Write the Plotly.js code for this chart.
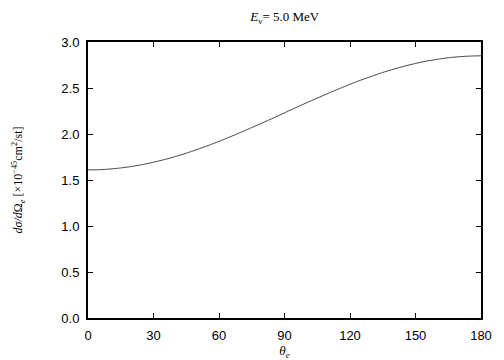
<!DOCTYPE html>
<html>
<head>
<meta charset="utf-8">
<script src="https://cdn.plot.ly/plotly-3.0.1.min.js"></script>
<style>html,body{margin:0;padding:0;background:#fff;}#chart{width:504px;height:360px;}</style>
</head>
<body>
<div id="chart"></div>
<script>
const theta = [0, 5, 10, 15, 20, 25, 30, 35, 40, 45, 50, 55, 60, 65, 70, 75, 80, 85, 90,
               95, 100, 105, 110, 115, 120, 125, 130, 135, 140, 145, 150, 155, 160, 165, 170, 175, 180];
const dsigma = [1.61, 1.612, 1.619, 1.631, 1.647, 1.668, 1.693, 1.722, 1.755, 1.791, 1.832, 1.874, 1.92, 1.968, 2.018, 2.07, 2.122, 2.175, 2.23,
                2.285, 2.338, 2.39, 2.442, 2.492, 2.54, 2.586, 2.628, 2.669, 2.705, 2.738, 2.767, 2.792, 2.812, 2.829, 2.84, 2.847, 2.85];
const xTicks = [0, 30, 60, 90, 120, 150, 180];
const yTicks = [0.0, 0.5, 1.0, 1.5, 2.0, 2.5, 3.0];

const serif = "Liberation Serif, Times New Roman, serif";
const sans = "Liberation Sans, Arial, Helvetica, sans-serif";

const trace = {
  x: theta, y: dsigma, type: 'scatter', mode: 'lines',
  line: {color: '#333', width: 0.9, shape: 'spline', smoothing: 0.6},
  hoverinfo: 'skip'
};

const axisCommon = {
  showline: true, linecolor: '#000', linewidth: 2, mirror: 'allticks',
  ticks: 'inside', ticklen: 5, tickwidth: 1, tickcolor: '#000',
  showgrid: false, zeroline: false,
  tickfont: {family: sans, size: 13, color: '#000'}
};

const layout = {
  width: 504, height: 360,
  margin: {l: 88, r: 23, t: 42, b: 42},
  paper_bgcolor: '#fff', plot_bgcolor: '#fff',
  showlegend: false,
  title: {text: '<i>E</i><sub>ν</sub>= 5.0 MeV', font: {family: serif, size: 13, color: '#000'}, x: 0.565, xanchor: 'center', y: 0.953, yanchor: 'middle'},
  xaxis: Object.assign({}, axisCommon, {
    range: [0, 180], tickvals: xTicks, ticktext: xTicks.map(String), ticklabelstandoff: 4,
    title: {text: '<i>θ<sub>e</sub></i>', font: {family: serif, size: 13, color: '#000'}, standoff: 8}
  }),
  yaxis: Object.assign({}, axisCommon, {
    range: [0, 3.0], tickvals: yTicks, ticktext: yTicks.map(v => v.toFixed(1)), ticklabelstandoff: 4,
    title: {text: '<i>dσ/d</i>Ω<sub><i>e</i></sub> [×10<sup>−45</sup>cm<sup>2</sup>/st]', font: {family: serif, size: 12, color: '#000'}, standoff: 36}
  })
};

Plotly.newPlot('chart', [trace], layout, {staticPlot: true, displayModeBar: false});
</script>
</body>
</html>
